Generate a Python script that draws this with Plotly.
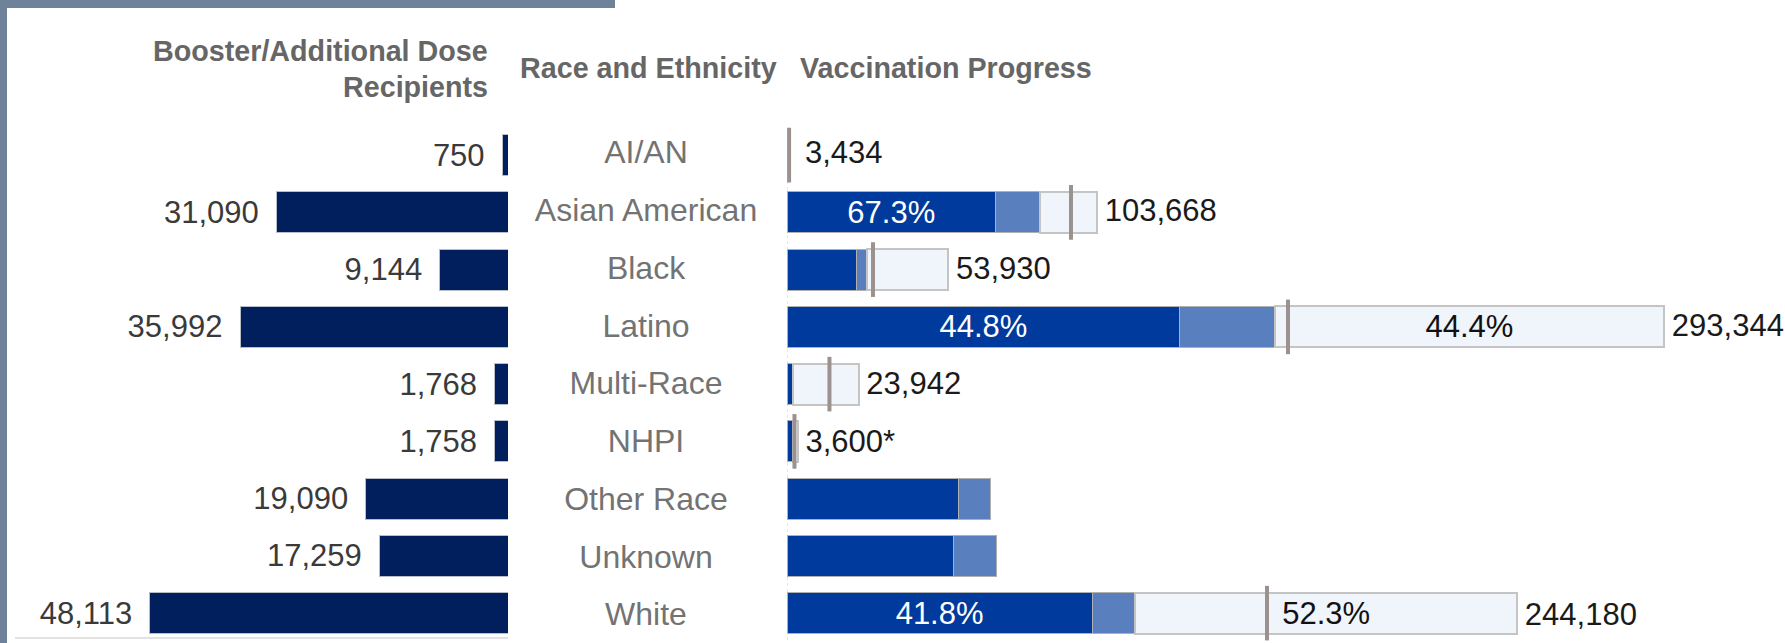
import plotly.graph_objects as go

# Rows, top to bottom
categories = ['AI/AN', 'Asian American', 'Black', 'Latino', 'Multi-Race',
              'NHPI', 'Other Race', 'Unknown', 'White']

# Left panel: booster / additional dose recipients
booster = [750, 31090, 9144, 35992, 1768, 1758, 19090, 17259, 48113]

# Right panel: vaccination progress (people)
fully_vax = [None, 69769, 23240, 131418, 2000, 1700, 57190, 55520, 102067]
partial_vax = [None, 14900, 3680, 31681, 0, 300, 10900, 14380, 14407]
not_vax = [None, 19000, 27010, 130245, 21942, 1600, None, None, 127706]
target_mark = [700, 94980, 28760, 167560, 14200, 2500, None, None, 160540]
population = [3434, 103668, 53930, 293344, 23942, 3600, None, None, 244180]
pop_note = ['', '', '', '', '', '*', '', '', '']

fully_pct_text = ['', '67.3%', '', '44.8%', '', '', '', '', '41.8%']
not_pct_text = ['', '', '', '44.4%', '', '', '', '', '52.3%']

W, H = 1785, 643
FONT = 'Liberation Sans, Arial, sans-serif'


def px_x(p):
    return p / W


def px_y(p):
    return 1 - p / H


fig = go.Figure()

# Left bars (reversed axis)
fig.add_trace(go.Bar(
    y=categories, x=booster, orientation='h',
    marker=dict(color='#001f5c', line=dict(color='#b8bec8', width=1)),
    texttemplate='%{x:,}\u00a0\u2009', textposition='outside',
    textfont=dict(size=31, color='#3a3a3a', family=FONT),
    constraintext='none', cliponaxis=False,
    xaxis='x', yaxis='y', showlegend=False, hoverinfo='skip'
))

# Category labels in the middle
fig.add_trace(go.Scatter(
    y=categories, x=[0] * len(categories), mode='text',
    text=categories, textposition='middle center', cliponaxis=False,
    textfont=dict(size=32, color='#737373', family=FONT),
    xaxis='x3', yaxis='y2', showlegend=False, hoverinfo='skip'
))

# Right stacked bars
fig.add_trace(go.Bar(
    y=categories, x=fully_vax, orientation='h',
    marker=dict(color='#003a9c', line=dict(color='#b0b0b0', width=1)),
    text=fully_pct_text, textposition='inside', insidetextanchor='middle',
    textangle=0, constraintext='none',
    textfont=dict(size=31, color='white', family=FONT),
    xaxis='x2', yaxis='y', showlegend=False, hoverinfo='skip'
))
fig.add_trace(go.Bar(
    y=categories, x=partial_vax, orientation='h',
    marker=dict(color='#5a7fbf', line=dict(color='#b0b0b0', width=1)),
    xaxis='x2', yaxis='y', showlegend=False, hoverinfo='skip'
))
fig.add_trace(go.Bar(
    y=categories, x=not_vax, orientation='h',
    marker=dict(color='#f0f4fb', line=dict(color='#c4c4c4', width=2)),
    text=not_pct_text, textposition='inside', insidetextanchor='middle',
    textangle=0, constraintext='none',
    textfont=dict(size=31, color='#111111', family=FONT),
    xaxis='x2', yaxis='y', showlegend=False, hoverinfo='skip'
))

# Reference marks
fig.add_trace(go.Scatter(
    y=categories, x=target_mark, mode='markers',
    marker=dict(symbol='line-ns', size=39, line=dict(width=4, color='#9b9290')),
    xaxis='x2', yaxis='y', showlegend=False, hoverinfo='skip'
))

# Population labels
pop_x = [p for p in population if p is not None]
pop_y = [c for c, p in zip(categories, population) if p is not None]
pop_txt = ['\u2005' + f'{p:,}' + n for p, n in zip(population, pop_note) if p is not None]
fig.add_trace(go.Scatter(
    y=pop_y, x=pop_x, mode='text', text=pop_txt, textposition='middle right',
    textfont=dict(size=31, color='#1a1a1a', family=FONT), cliponaxis=False,
    xaxis='x2', yaxis='y2', showlegend=False, hoverinfo='skip'
))

row_top, row_h = 126.5, 57.25
txt_top = row_top + 4.5
fig.update_layout(
    width=W, height=H,
    margin=dict(l=0, r=0, t=0, b=0),
    paper_bgcolor='white', plot_bgcolor='rgba(0,0,0,0)',
    barmode='stack', bargap=0.284,
    font=dict(family=FONT),
    xaxis=dict(domain=[px_x(20), px_x(508)], range=[65583, 0], visible=False,
               anchor='y', fixedrange=True),
    xaxis2=dict(domain=[px_x(787), 1], range=[0, 333779], visible=False,
                anchor='y', fixedrange=True),
    xaxis3=dict(domain=[px_x(560), px_x(732)], range=[-1, 1], visible=False,
                anchor='y', fixedrange=True),
    yaxis=dict(domain=[0, px_y(row_top)],
               type='category', categoryorder='array', categoryarray=categories,
               range=[-0.5 + (H - row_top) / row_h, -0.5], visible=False,
               fixedrange=True),
    # same rows, nudged a few pixels down for text baselines
    yaxis2=dict(domain=[0, px_y(txt_top)], overlaying='y',
                type='category', categoryorder='array', categoryarray=categories,
                range=[-0.5 + (H - txt_top) / row_h, -0.5], visible=False,
                fixedrange=True),
)

hdr = dict(size=28.7, color='#666666', family=FONT, weight='bold')
fig.add_annotation(text='Booster/Additional Dose', xref='paper', yref='paper',
                   x=px_x(490), y=px_y(51), xanchor='right', yanchor='middle',
                   showarrow=False, font=hdr)
fig.add_annotation(text='Recipients', xref='paper', yref='paper',
                   x=px_x(490), y=px_y(87), xanchor='right', yanchor='middle',
                   showarrow=False, font=hdr)
fig.add_annotation(text='Race and Ethnicity', xref='paper', yref='paper',
                   x=px_x(648), y=px_y(68), xanchor='center', yanchor='middle',
                   showarrow=False, font=hdr)
fig.add_annotation(text='Vaccination Progress', xref='paper', yref='paper',
                   x=px_x(798), y=px_y(68), xanchor='left', yanchor='middle',
                   showarrow=False, font=hdr)

# Frame and guide lines
frame = 'rgb(110,131,153)'
fig.add_shape(type='rect', xref='paper', yref='paper', x0=0, x1=px_x(7),
              y0=0, y1=1, fillcolor=frame, line_width=0, layer='above')
fig.add_shape(type='rect', xref='paper', yref='paper', x0=0, x1=px_x(615),
              y0=px_y(8), y1=1, fillcolor=frame, line_width=0, layer='above')
fig.add_shape(type='line', xref='paper', yref='paper', x0=px_x(15), x1=px_x(508),
              y0=px_y(638), y1=px_y(638), line=dict(color='#e2e2e2', width=2))
fig.add_shape(type='line', xref='x2', yref='paper', x0=0, x1=0,
              y0=px_y(640), y1=px_y(128), line=dict(color='#d0d0d0', width=1, dash='dot'),
              layer='below')

fig.write_html('out.html', config={'displayModeBar': False},
               post_script="document.body.style.margin='0';document.body.style.overflow='hidden';")
